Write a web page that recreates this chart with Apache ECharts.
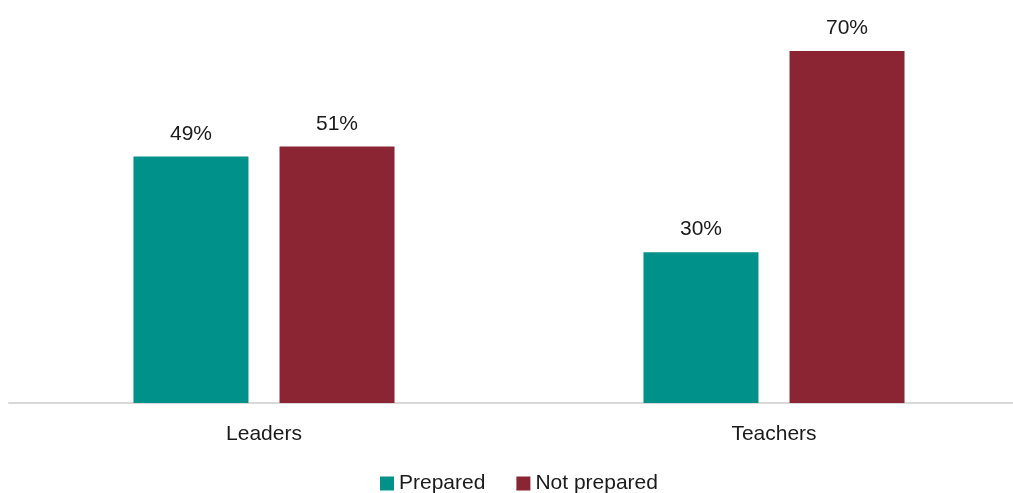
<!DOCTYPE html>
<html>
<head>
<meta charset="utf-8">
<script src="https://cdn.jsdelivr.net/npm/echarts@6/dist/echarts.min.js"></script>
<style>html,body{margin:0;padding:0;background:#fff;overflow:hidden}#c{width:1030px;height:493px}</style>
</head>
<body>
<div id="c"></div>
<script>
const categories = ['Leaders', 'Teachers'];
const prepared = [49, 30];
const notPrepared = [51, 70];
const seriesNames = ['Prepared', 'Not prepared'];

const chart = echarts.init(document.getElementById('c'));
const font = 'Liberation Sans, Arial, sans-serif';
const label = {
  show: true, position: 'top', distance: 12,
  formatter: p => p.value + '%',
  color: '#1a1a1a', fontSize: 21, fontFamily: font
};
chart.setOption({
  animation: false,
  grid: { left: 9, top: 51, bottom: 90, right: 1, containLabel: false },
  legend: {
    top: 468, left: 375, itemWidth: 14, itemHeight: 14, itemGap: 31,
    icon: 'rect',
    textStyle: { fontSize: 21, color: '#1a1a1a', fontFamily: font, padding: [0, 0, 0, 0] },
    data: seriesNames
  },
  xAxis: {
    type: 'category', data: categories,
    axisLine: { lineStyle: { color: '#d9d9d9', width: 2 } },
    axisTick: { show: false },
    axisLabel: { fontSize: 21, color: '#1a1a1a', fontFamily: font, margin: 21 }
  },
  yAxis: {
    type: 'value', min: 0, max: 70, show: false,
    splitLine: { show: false }
  },
  series: [
    { name: seriesNames[0], type: 'bar', data: prepared, barWidth: 115, barGap: '27%',
      itemStyle: { color: '#00928A' }, label: label },
    { name: seriesNames[1], type: 'bar', data: notPrepared, barWidth: 115, barGap: '27%',
      itemStyle: { color: '#8B2533' }, label: label }
  ]
});
</script>
</body>
</html>
